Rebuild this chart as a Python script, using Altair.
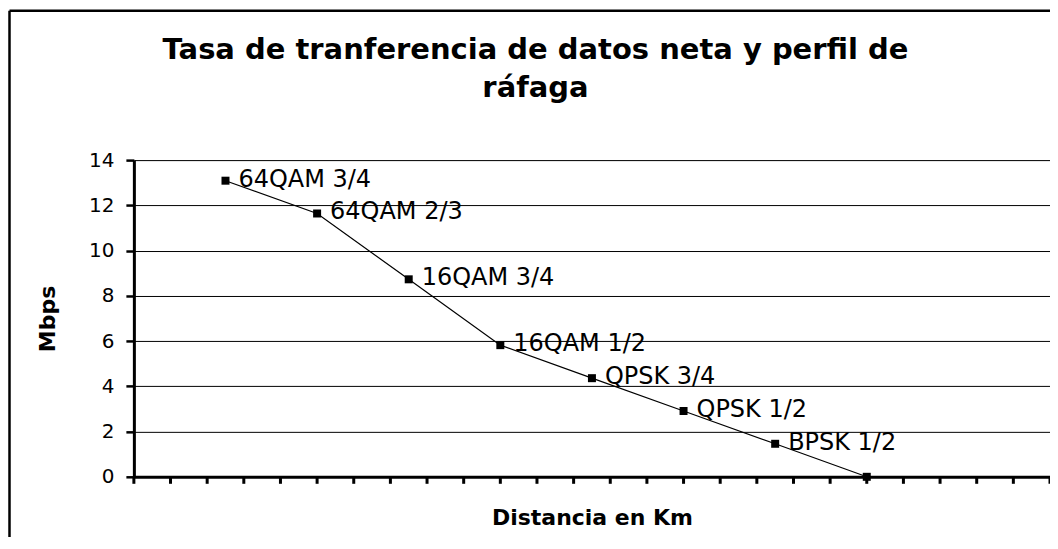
import altair as alt
import pandas as pd

# Data
distancia = [2.5, 5, 7.5, 10, 12.5, 15, 17.5, 20]
mbps = [13.09, 11.64, 8.73, 5.82, 4.36, 2.91, 1.46, 0.0]
perfil = ["64QAM 3/4", "64QAM 2/3", "16QAM 3/4", "16QAM 1/2",
          "QPSK 3/4", "QPSK 1/2", "BPSK 1/2", ""]
x_ticks = list(range(0, 26))
y_ticks = [0, 2, 4, 6, 8, 10, 12, 14]
titulo = ["Tasa de tranferencia de datos neta y perfil de", "ráfaga"]

df = pd.DataFrame({"dist": distancia, "mbps": mbps, "perfil": perfil})
ticks_df = pd.DataFrame({"t": x_ticks})

FONT = "DejaVu Sans"
W, H = 917, 317

x_scale = alt.Scale(domain=[0, 25], nice=False, zero=True)
x_enc = alt.X("dist:Q", scale=x_scale,
              axis=alt.Axis(values=x_ticks, labels=False, ticks=False,
                            grid=False,
                            domainWidth=3, domainColor="black",
                            title="Distancia en Km", titleFont=FONT,
                            titleFontSize=22, titleFontWeight="bold",
                            titleColor="black", titlePadding=31))
y_enc = alt.Y("mbps:Q",
              scale=alt.Scale(domain=[0, 14], nice=False),
              axis=alt.Axis(values=y_ticks, grid=True, gridColor="black",
                            gridWidth=1, gridOpacity=1,
                            tickSize=8, tickWidth=2.5, tickColor="black",
                            domainWidth=3, domainColor="black",
                            labelFont=FONT, labelFontSize=20,
                            labelColor="black", labelPadding=12,
                            title="Mbps", titleFont=FONT, titleFontSize=22,
                            titleFontWeight="bold", titleColor="black",
                            titlePadding=29))

base = alt.Chart(df)

line = base.mark_line(color="black", strokeWidth=1.2).encode(x=x_enc, y=y_enc)
pts = base.mark_point(shape="square", filled=True, color="black",
                      size=64, opacity=1).encode(x="dist:Q", y="mbps:Q")
labels = base.mark_text(align="left", baseline="middle", dx=13, dy=-1,
                        font=FONT, fontSize=24, color="black").encode(
    x="dist:Q", y="mbps:Q", text="perfil:N")

# x-axis tick marks, one per category step, placed through the x scale
xticks = alt.Chart(ticks_df).mark_rule(color="black", strokeWidth=3).encode(
    x=alt.X("t:Q", scale=x_scale), y=alt.value(H), y2=alt.value(H + 7))

one = pd.DataFrame({"k": [0]})
# chart title drawn as a text mark (two lines, centred on the chart frame)
title_mark = alt.Chart(one).mark_text(
    text=titulo, font=FONT, fontSize=29, fontWeight="bold", color="black",
    align="center", baseline="alphabetic", lineHeight=38).encode(
    x=alt.value(402), y=alt.value(-101))

# outer frame of the chart area (decoration)
frame_left = alt.Chart(one).mark_rule(
    color="black", strokeWidth=2.5).encode(
    x=alt.value(-124.5), x2=alt.value(-124.5),
    y=alt.value(-149.5), y2=alt.value(400))
frame_top = alt.Chart(one).mark_rule(
    color="black", strokeWidth=2.5).encode(
    x=alt.value(-124.5), x2=alt.value(1000),
    y=alt.value(-149.5), y2=alt.value(-149.5))

chart = alt.layer(frame_left, frame_top, title_mark, line, xticks, pts,
                  labels).properties(
    width=W, height=H,
    autosize=alt.AutoSizeParams(type="none"),
    padding={"left": 126, "top": 152, "right": 0, "bottom": 60},
).configure_view(stroke=None).configure(background="white")

chart.save("out.html", embed_options={"renderer": "svg", "actions": False})
